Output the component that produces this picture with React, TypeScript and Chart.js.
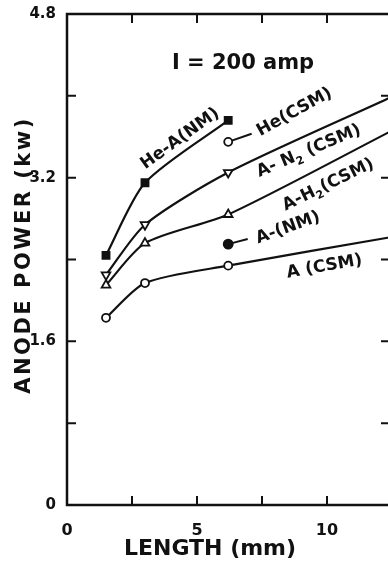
import { useEffect, useRef } from 'react';
import { Chart, registerables } from 'chart.js';

Chart.register(...registerables);

// ---- data ----
const lengthsThree = [1.5, 3, 6.2];
const lengthsFour = [1.5, 3, 6.2, 12.5];
const lengthSingle = [6.2];
const heANM = [2.44, 3.15, 3.76];
const heCSM = [3.55];
const aN2CSM = [2.25, 2.74, 3.25, 3.99];
const aH2CSM = [2.15, 2.56, 2.84, 3.66];
const aNM = [2.55];
const aCSM = [1.83, 2.17, 2.34, 2.62];

const xTickValues = [0, 2.5, 5, 7.5, 10, 12.5];
const xTickLabels = ['0', '', '5', '', '10', ''];
const yTickValues = [0, 0.8, 1.6, 2.4, 3.2, 4.0, 4.8];
const yTickLabels = ['0', '', '1.6', '', '3.2', '', '4.8'];

const FONT = '"DejaVu Sans", sans-serif';
const INK = '#111111';

type Seg = [string, boolean?];
interface Note {
  segs: Seg[];
  x: number;
  y: number;
  angle: number;
  size: number;
  leader?: [number, number, number, number];
}

const notes: Note[] = [
  { segs: [['I = 200 amp']], x: 6.77, y: 4.32, angle: 0, size: 21 },
  { segs: [['He-A(NM)']], x: 4.35, y: 3.58, angle: -36, size: 17 },
  { segs: [['He(CSM)']], x: 8.75, y: 3.84, angle: -29, size: 17, leader: [6.2, 3.55, 7.1, 3.63] },
  { segs: [['A- N'], ['2', true], [' (CSM)']], x: 9.3, y: 3.46, angle: -23, size: 17 },
  { segs: [['A-H'], ['2', true], ['(CSM)']], x: 10.05, y: 3.13, angle: -26, size: 17 },
  { segs: [['A-(NM)']], x: 8.5, y: 2.71, angle: -20, size: 17, leader: [6.2, 2.55, 6.95, 2.6] },
  { segs: [['A (CSM)']], x: 9.9, y: 2.33, angle: -10, size: 17 },
];

function drawRich(ctx: CanvasRenderingContext2D, segs: Seg[], size: number) {
  const main = `bold ${size}px ${FONT}`;
  const sub = `bold ${Math.round(size * 0.62)}px ${FONT}`;
  let total = 0;
  const widths = segs.map(([t, s]) => {
    ctx.font = s ? sub : main;
    const w = ctx.measureText(t).width;
    total += w;
    return w;
  });
  let cx = -total / 2;
  ctx.textBaseline = 'middle';
  ctx.textAlign = 'left';
  segs.forEach(([t, s], i) => {
    ctx.font = s ? sub : main;
    ctx.fillText(t, cx, s ? size * 0.35 : 0);
    cx += widths[i];
  });
}

const framePlugin = {
  id: 'frameAndNotes',
  beforeDatasetsDraw(chart: any) {
    const { ctx, scales } = chart;
    const xs = scales.x;
    const ys = scales.y;
    ctx.save();
    ctx.strokeStyle = INK;
    ctx.lineWidth = 2;
    notes.forEach((n) => {
      if (!n.leader) return;
      const [x1, y1, x2, y2] = n.leader;
      ctx.beginPath();
      ctx.moveTo(xs.getPixelForValue(x1), ys.getPixelForValue(y1));
      ctx.lineTo(xs.getPixelForValue(x2), ys.getPixelForValue(y2));
      ctx.stroke();
    });
    ctx.restore();
  },
  afterDraw(chart: any) {
    const { ctx, chartArea, scales } = chart;
    const xs = scales.x;
    const ys = scales.y;
    const { left, right, top, bottom } = chartArea;
    ctx.save();
    ctx.strokeStyle = INK;
    ctx.lineWidth = 2.5;
    ctx.strokeRect(left, top, right - left, bottom - top);
    ctx.lineWidth = 2;
    const tl = 9;
    ctx.beginPath();
    xTickValues.forEach((v) => {
      const px = xs.getPixelForValue(v);
      ctx.moveTo(px, bottom);
      ctx.lineTo(px, bottom - tl);
      ctx.moveTo(px, top);
      ctx.lineTo(px, top + tl);
    });
    yTickValues.forEach((v) => {
      const py = ys.getPixelForValue(v);
      ctx.moveTo(left, py);
      ctx.lineTo(left + tl, py);
      ctx.moveTo(right, py);
      ctx.lineTo(right - tl - 2, py);
    });
    ctx.stroke();

    ctx.fillStyle = INK;
    notes.forEach((n) => {
      ctx.save();
      ctx.translate(xs.getPixelForValue(n.x), ys.getPixelForValue(n.y));
      ctx.rotate((n.angle * Math.PI) / 180);
      drawRich(ctx, n.segs, n.size);
      ctx.restore();
    });

    // axis titles
    ctx.save();
    ctx.translate(25, 255);
    ctx.rotate(-Math.PI / 2);
    ctx.font = `bold 21px ${FONT}`;
    (ctx as any).letterSpacing = '2.5px';
    ctx.textAlign = 'center';
    ctx.textBaseline = 'middle';
    ctx.fillText('ANODE POWER (kw)', 0, 0);
    ctx.restore();

    ctx.save();
    ctx.font = `bold 22px ${FONT}`;
    ctx.textAlign = 'center';
    ctx.textBaseline = 'middle';
    ctx.fillText('LENGTH (mm)', 210, 549);
    ctx.restore();
    ctx.restore();
  },
};

function pts(xs: number[], ys: number[]) {
  return xs.map((x, i) => ({ x, y: ys[i] }));
}

export default function App() {
  const ref = useRef<HTMLCanvasElement>(null);
  useEffect(() => {
    if (!ref.current) return;
    const lineBase = {
      borderColor: INK,
      borderWidth: 2.2,
      pointBorderColor: INK,
      pointBorderWidth: 1.8,
      tension: 0.25,
      fill: false,
    };
    const chart = new Chart(ref.current, {
      type: 'line',
      data: {
        datasets: [
          {
            ...lineBase,
            label: 'He-A(NM)',
            data: pts(lengthsThree, heANM),
            pointStyle: 'rect',
            pointRadius: 5,
            pointBackgroundColor: INK,
          },
          {
            ...lineBase,
            label: 'He(CSM)',
            data: pts(lengthSingle, heCSM),
            showLine: false,
            pointStyle: 'circle',
            pointRadius: 4,
            pointBackgroundColor: '#ffffff',
          },
          {
            ...lineBase,
            label: 'A-N2(CSM)',
            data: pts(lengthsFour, aN2CSM),
            pointStyle: 'triangle',
            pointRotation: 180,
            pointRadius: [5, 5, 5, 0],
            pointBackgroundColor: '#ffffff',
          },
          {
            ...lineBase,
            label: 'A-H2(CSM)',
            data: pts(lengthsFour, aH2CSM),
            pointStyle: 'triangle',
            pointRadius: [5, 5, 5, 0],
            pointBackgroundColor: '#ffffff',
          },
          {
            ...lineBase,
            label: 'A-(NM)',
            data: pts(lengthSingle, aNM),
            showLine: false,
            pointStyle: 'circle',
            pointRadius: 4.5,
            pointBackgroundColor: INK,
          },
          {
            ...lineBase,
            label: 'A(CSM)',
            data: pts(lengthsFour, aCSM),
            pointStyle: 'circle',
            pointRadius: [4, 4, 4, 0],
            pointBackgroundColor: '#ffffff',
          },
        ],
      },
      options: {
        animation: false,
        responsive: false,
        layout: { padding: { top: 14, right: 3, left: 0, bottom: 0 } },
        plugins: { legend: { display: false }, tooltip: { enabled: false } },
        scales: {
          x: {
            type: 'linear',
            min: 0,
            max: 12.5,
            grid: { display: false },
            border: { display: false },
            afterFit: (s: any) => {
              s.height = 57;
            },
            afterBuildTicks: (s: any) => {
              s.ticks = xTickValues.map((v) => ({ value: v }));
            },
            ticks: {
              autoSkip: false,
              maxRotation: 0,
              padding: 8,
              color: INK,
              font: { family: FONT, size: 16, weight: 'bold' },
              callback: (_v: any, i: number) => xTickLabels[i],
            },
          },
          y: {
            type: 'linear',
            min: 0,
            max: 4.8,
            grid: { display: false },
            border: { display: false },
            afterFit: (s: any) => {
              s.width = 67;
            },
            afterBuildTicks: (s: any) => {
              s.ticks = yTickValues.map((v) => ({ value: v }));
            },
            ticks: {
              autoSkip: false,
              padding: 3,
              color: INK,
              font: { family: FONT, size: 15, weight: 'bold' },
              callback: (_v: any, i: number) => yTickLabels[i],
            },
          },
        },
      },
      plugins: [framePlugin],
    } as any);
    return () => chart.destroy();
  }, []);

  return (
    <div
      style={{
        position: 'absolute',
        left: 0,
        top: 0,
        width: 388,
        height: 562,
        overflow: 'hidden',
        background: '#ffffff',
      }}
    >
      <canvas ref={ref} width={400} height={562} style={{ width: 400, height: 562, display: 'block' }} />
    </div>
  );
}
